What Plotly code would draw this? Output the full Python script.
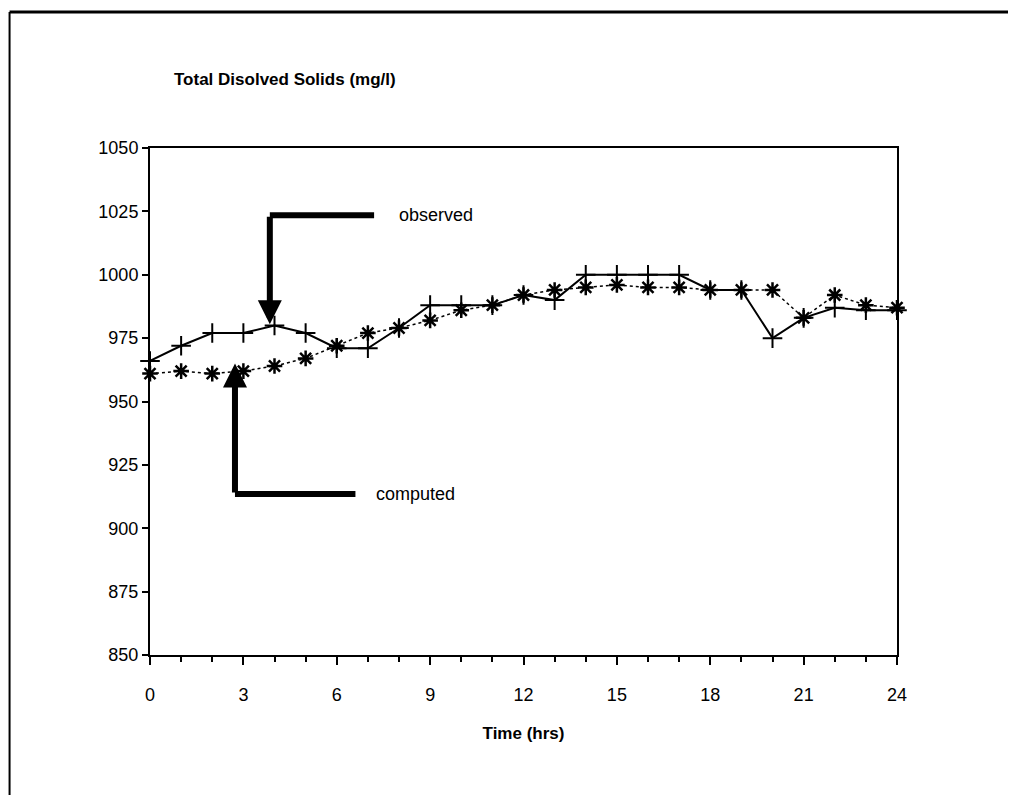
import plotly.graph_objects as go

time_hrs = list(range(25))
observed = [966, 972, 977, 977, 980, 977, 971, 971, 979, 988, 988, 988, 992, 990,
            1000, 1000, 1000, 1000, 994, 994, 975, 983, 987, 986, 986]
computed = [961, 962, 961, 962, 964, 967, 972, 977, 979, 982, 986, 988, 992, 994,
            995, 996, 995, 995, 994, 994, 994, 983, 992, 988, 987]
x_ticks = [0, 3, 6, 9, 12, 15, 18, 21, 24]
y_ticks = [850, 875, 900, 925, 950, 975, 1000, 1025, 1050]

FONT = "Liberation Sans"
fig = go.Figure()
fig.add_trace(go.Scatter(
    x=time_hrs, y=computed, mode="lines+markers", name="computed",
    line=dict(color="black", width=1.5, dash="dot"),
    marker=dict(symbol="asterisk-open", size=13, line=dict(color="black", width=2.5)),
    cliponaxis=False, showlegend=False))
fig.add_trace(go.Scatter(
    x=time_hrs, y=observed, mode="lines+markers", name="observed",
    line=dict(color="black", width=2),
    marker=dict(symbol="cross-thin-open", size=14, line=dict(color="black", width=2)),
    cliponaxis=False, showlegend=False))

# arrows
obs_arrow = dict(x=3.85, tip=980.5, top=1023.5, right=7.2)
cmp_arrow = dict(x=2.73, tip=965.0, bottom=913.5, right=6.6)
fig.add_shape(type="line", x0=obs_arrow["x"], x1=obs_arrow["right"], y0=obs_arrow["top"], y1=obs_arrow["top"],
              line=dict(color="black", width=6))
fig.add_shape(type="line", x0=cmp_arrow["x"], x1=cmp_arrow["right"], y0=cmp_arrow["bottom"], y1=cmp_arrow["bottom"],
              line=dict(color="black", width=6))
fig.add_annotation(x=obs_arrow["x"], y=obs_arrow["tip"], ax=obs_arrow["x"], ay=obs_arrow["top"],
                   xref="x", yref="y", axref="x", ayref="y", showarrow=True, arrowhead=2,
                   arrowwidth=6, arrowsize=0.8, arrowcolor="black", text="")
fig.add_annotation(x=cmp_arrow["x"], y=cmp_arrow["tip"], ax=cmp_arrow["x"], ay=cmp_arrow["bottom"],
                   xref="x", yref="y", axref="x", ayref="y", showarrow=True, arrowhead=2,
                   arrowwidth=6, arrowsize=0.8, arrowcolor="black", text="")
fig.add_annotation(x=7.95, y=obs_arrow["top"], xref="x", yref="y", text="observed", showarrow=False,
                   xanchor="left", yanchor="middle", font=dict(family=FONT, size=18, color="black"))
fig.add_annotation(x=7.2, y=cmp_arrow["bottom"], xref="x", yref="y", text="computed", showarrow=False,
                   xanchor="left", yanchor="middle", font=dict(family=FONT, size=18, color="black"))

# chart title
fig.add_annotation(x=0.03, y=1.135, xref="paper", yref="paper", text="<b>Total Disolved Solids (mg/l)</b>",
                   showarrow=False, xanchor="left", yanchor="middle",
                   font=dict(family=FONT, size=17, color="black"))

# scanned page border
fig.add_shape(type="line", xref="paper", yref="paper", x0=-0.188, x1=1.2, y0=1.268, y1=1.268,
              line=dict(color="black", width=3))
fig.add_shape(type="line", xref="paper", yref="paper", x0=-0.188, x1=-0.188, y0=1.268, y1=-0.29,
              line=dict(color="black", width=2))

fig.update_layout(
    width=1016, height=795,
    margin=dict(l=142, r=127, t=140, b=148),
    paper_bgcolor="white", plot_bgcolor="white",
    font=dict(family=FONT, size=18, color="black"),
    xaxis=dict(range=[0, 24], tickvals=x_ticks, ticktext=[str(v) for v in x_ticks],
               showgrid=False, zeroline=False, showline=True, linecolor="black", linewidth=2,
               mirror=True, ticks="outside", ticklen=8, tickwidth=2, tickcolor="black",
               ticklabelstandoff=14,
               minor=dict(dtick=1, ticks="outside", ticklen=5, tickwidth=1.5, tickcolor="black"),
               title=dict(text="<b>Time (hrs)</b>", font=dict(family=FONT, size=17), standoff=24),
               tickfont=dict(family=FONT, size=18)),
    yaxis=dict(range=[850, 1050], tickvals=y_ticks, ticktext=[str(v) for v in y_ticks],
               showgrid=False, zeroline=False, showline=True, linecolor="black", linewidth=2,
               mirror=True, ticks="outside", ticklen=6, tickwidth=2, tickcolor="black",
               tickfont=dict(family=FONT, size=18)),
)

fig.write_html("out.html")
